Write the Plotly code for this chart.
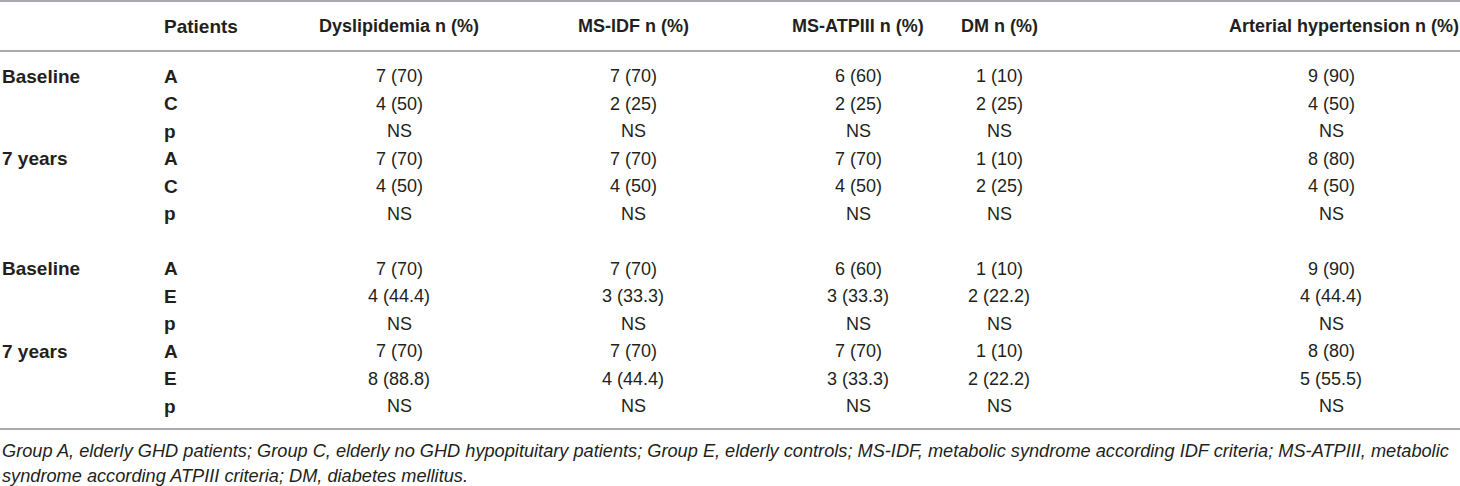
import plotly.graph_objects as go

# Table contents
headers = ["Patients", "Dyslipidemia n (%)", "MS-IDF n (%)", "MS-ATPIII n (%)",
           "DM n (%)", "Arterial hypertension n (%)"]

periods = ["Baseline", "", "", "7 years", "", "", "",
           "Baseline", "", "", "7 years", "", ""]
groups = ["A", "C", "p", "A", "C", "p", "",
          "A", "E", "p", "A", "E", "p"]

dyslipidemia = ["7 (70)", "4 (50)", "NS", "7 (70)", "4 (50)", "NS", "",
                "7 (70)", "4 (44.4)", "NS", "7 (70)", "8 (88.8)", "NS"]
ms_idf = ["7 (70)", "2 (25)", "NS", "7 (70)", "4 (50)", "NS", "",
          "7 (70)", "3 (33.3)", "NS", "7 (70)", "4 (44.4)", "NS"]
ms_atpiii = ["6 (60)", "2 (25)", "NS", "7 (70)", "4 (50)", "NS", "",
             "6 (60)", "3 (33.3)", "NS", "7 (70)", "3 (33.3)", "NS"]
dm = ["1 (10)", "2 (25)", "NS", "1 (10)", "2 (25)", "NS", "",
      "1 (10)", "2 (22.2)", "NS", "1 (10)", "2 (22.2)", "NS"]
hypertension = ["9 (90)", "4 (50)", "NS", "8 (80)", "4 (50)", "NS", "",
                "9 (90)", "4 (44.4)", "NS", "8 (80)", "5 (55.5)", "NS"]

footnote = [
    "Group A, elderly GHD patients; Group C, elderly no GHD hypopituitary patients; "
    "Group E, elderly controls; MS-IDF, metabolic syndrome according IDF criteria; "
    "MS-ATPIII, metabolic",
    "syndrome according ATPIII criteria; DM, diabetes mellitus.",
]

# layout (pixel space)
W, H = 1460, 486
FONT = "Liberation Sans"
TXT = "#231f20"
LINE = "#a7a9ac"
SIZE = 18
LABEL_SIZE = 19

period_x = 0
group_x = 162
value_cols = [dyslipidemia, ms_idf, ms_atpiii, dm, hypertension]
value_x = [399, 633, 858, 999, 1331]
header_x = [399, 633, 858, 999, 1344]
header_y = 26
row0_y = 76
row_h = 27.5

fig = go.Figure()
fig.add_trace(go.Scatter(x=[0, W], y=[0, H], mode="markers",
                         marker=dict(opacity=0), hoverinfo="skip",
                         showlegend=False))

ann = []


def cell(x, y, text, anchor="center", bold=False, size=SIZE):
    if not text:
        return
    ann.append(dict(x=x, y=y, xref="x", yref="y", text=f"<b>{text}</b>" if bold else text,
                    showarrow=False, xanchor=anchor, yanchor="middle",
                    font=dict(family=FONT, size=size, color=TXT)))


# header row
cell(group_x, header_y, headers[0], anchor="left", bold=True, size=LABEL_SIZE)
for hx, h in zip(header_x, headers[1:]):
    cell(hx, header_y, h, bold=True)

# body rows
for i in range(len(groups)):
    y = row0_y + i * row_h
    cell(period_x, y, periods[i], anchor="left", bold=True, size=LABEL_SIZE)
    cell(group_x, y, groups[i], anchor="left", bold=True, size=LABEL_SIZE)
    for vx, col in zip(value_x, value_cols):
        cell(vx, y, col[i])

# footnote
for j, line in enumerate(footnote):
    ann.append(dict(x=0, y=451 + j * 25, xref="x", yref="y", text=f"<i>{line}</i>",
                    showarrow=False, xanchor="left", yanchor="middle",
                    font=dict(family=FONT, size=18.2, color=TXT)))

shapes = [dict(type="line", xref="x", yref="y", x0=0, x1=W, y0=yy, y1=yy,
               line=dict(color=LINE, width=2)) for yy in (1, 51, 429)]

fig.update_layout(
    width=W, height=H,
    margin=dict(l=0, r=0, t=0, b=0),
    paper_bgcolor="white", plot_bgcolor="white",
    xaxis=dict(range=[0, W], visible=False, fixedrange=True),
    yaxis=dict(range=[H, 0], visible=False, fixedrange=True),
    annotations=ann, shapes=shapes,
    showlegend=False,
)

# drop the default page margin so the table sits flush with the window
fig.write_html("out.html", config={"displayModeBar": False},
               post_script="document.body.style.margin='0';"
                           "document.body.style.overflow='hidden';")
